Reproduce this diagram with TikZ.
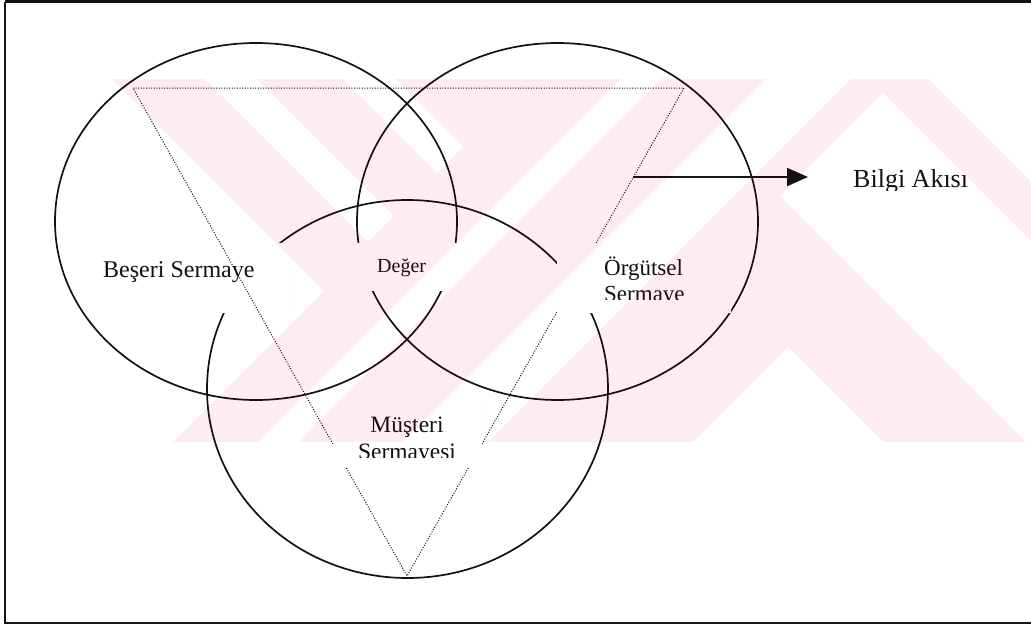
\documentclass[tikz,border=0pt]{standalone}
\usepackage{fontspec}
\setmainfont{Liberation Serif}
\usetikzlibrary{arrows.meta}
\definecolor{wmpink}{RGB}{253,237,241}
\definecolor{ink}{RGB}{22,16,16}

% faint striped background mark, drawn in a clipped band
\newcommand\wmfill{%
  \begin{scope}
    \clip (112,79) rectangle (1031,442);
    \fill[wmpink] (112,79) rectangle (1031,442);
    \fill[white] (112,79) -- (324,291) -- (173,442) -- (112,442) -- cycle;
    \fill[white] (205,79) -- (257,79) -- (394,216) -- (368,242) -- cycle;
    \fill[white] (343,79) -- (395,79) -- (463,147) -- (437,173) -- cycle;
    \fill[white] (621,79) -- (661,79) -- (298,442) -- (258,442) -- cycle;
    \fill[white] (766,79) -- (851,79) -- (488,442) -- (403,442) -- cycle;
    \fill[white] (883,93) -- (1031,241) -- (1031,447) -- (780,196) -- cycle;
    \fill[white] (929,79) -- (1031,79) -- (1031,181) -- cycle;
    \fill[white] (788,347) -- (693,442) -- (883,442) -- cycle;
  \end{scope}}

% white label panel that keeps the background mark
\newcommand\padbox[1]{%
  \fill[white] #1;
  \begin{scope}\clip #1; \wmfill\end{scope}}

\begin{document}
\begin{tikzpicture}[x=1pt,y=-1pt,
  ring/.style={draw=ink,line width=1.7pt},
  tri/.style={draw=ink,line width=1pt,dash pattern=on 1pt off 1.6pt},
  lbl/.style={inner sep=0pt,text=ink},
  flow/.style={draw=ink,line width=2pt,-{Triangle[length=21pt,width=18pt]}}]
  \useasboundingbox (0,0) rectangle (1031,627);

  \wmfill

  % frame
  \draw[ink,line width=2.2pt] (5,1.5) -- (1040,1.5);
  \draw[ink,line width=2pt] (5,1.5) -- (5,623) -- (1040,623);

  % the three capital circles
  \coordinate (hc) at (256,221.5);
  \coordinate (oc) at (557.5,221.5);
  \coordinate (mc) at (407.5,389);
  \draw[ring] (hc) ellipse [x radius=201,y radius=178.5];
  \draw[ring] (oc) ellipse [x radius=200.5,y radius=178.5];
  \draw[ring] (mc) ellipse [x radius=200.5,y radius=189];

  \padbox{(95,243) rectangle (290,312)}

  % dotted triangle
  \coordinate (ta) at (133,88);
  \coordinate (tb) at (684,88);
  \coordinate (tc) at (407,576);
  \draw[tri] (ta) -- (tb) -- (tc) -- cycle;

  \padbox{(350,243) rectangle (466,290)}
  \padbox{(557,243) rectangle (731,312)}
  \padbox{(333,395) rectangle (482,467)}

  % knowledge flow arrow
  \coordinate (fs) at (633,177);
  \coordinate (fe) at (808,177);
  \draw[flow] (fs) -- (fe);

  % labels
  \node[lbl,anchor=base west,font=\fontsize{24}{28}\selectfont] (human) at (103,277) {Beşeri Sermaye};
  \node[lbl,anchor=base west,font=\fontsize{20}{24}\selectfont] (value) at (377,272) {Değer};
  \node[lbl,anchor=base west,font=\fontsize{23}{26}\selectfont] (org1) at (604,275) {Örgütsel};
  \begin{scope}
    \clip (560,280) rectangle (730,299);
    \node[lbl,anchor=base west,font=\fontsize{23}{26}\selectfont] (org2) at (604,301) {Sermaye};
  \end{scope}
  \node[lbl,anchor=base,font=\fontsize{23.5}{26}\selectfont] (cust1) at (407,432) {Müşteri};
  \begin{scope}
    \clip (340,437) rectangle (480,457);
    \node[lbl,anchor=base,font=\fontsize{23.5}{26}\selectfont] (cust2) at (407,459) {Sermayesi};
  \end{scope}
  \begin{scope}
    \clip (840,150) rectangle (1000,190);
    \node[lbl,anchor=base west,font=\fontsize{26}{30}\selectfont] (flowlbl) at (853,187) {Bilgi Akısı};
  \end{scope}
\end{tikzpicture}
\end{document}
